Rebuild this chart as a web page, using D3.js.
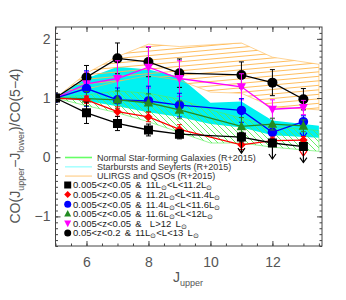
<!DOCTYPE html>
<html>
<head>
<meta charset="utf-8">
<script src="https://cdnjs.cloudflare.com/ajax/libs/d3/7.8.5/d3.min.js"></script>
<style>
  body { margin: 0; background: #fff; }
  svg { display: block; font-family: "Liberation Sans", Arial, sans-serif; }
</style>
</head>
<body>
<div id="chart"></div>
<script>
// J_upper of the measured lines
var jUpper = [5, 6, 7, 8, 9, 11, 12, 13];

// ratios CO(J-J-1)/CO(5-4) for each sample, with errors
var sqVals   = [1, 0.75, 0.57, 0.46, 0.39, 0.34, 0.24, 0.18];
var sqErr    = [0, 0.18, 0.12, 0.10, 0.08, 0.08, 0.06, 0.06];
var redVals  = [1, 0.97, 0.77, 0.68, 0.47, 0.21, 0.28, 0.29];
var redErr   = [0, 0.06, 0.08, 0.08, 0.08, 0.08, 0.06, 0.06];
var blueVals = [1, 1.16, 0.97, 0.95, 0.88, 0.79, 0.42, 0.60];
var blueErr  = [0, 0.30, 0.20, 0.25, 0.20, 0.20, 0.10, 0.10];
var grnVals  = [1, 0.99, 0.97, 0.92, 0.80, 0.52, 0.56, 0.53];
var grnErr   = [0, 0.12, 0.15, 0.15, 0.15, 0.15, 0.10, 0.10];
var magVals  = [1, 1.24, 1.33, 1.52, 1.33, 1.19, 0.81, 0.84];
var magErr   = [0, 0.20, 0.30, 0.35, 0.30, 0.22, 0.16, 0.12];
var circVals = [1, 1.35, 1.67, 1.61, 1.42, 1.39, 1.26, 0.98];
var circErr  = [0, 0.20, 0.26, 0.25, 0.24, 0.22, 0.22, 0.18];

// upper limits (drawn as down arrows): [sample, J]
var upperLimits = [["sq", 11], ["sq", 12], ["sq", 13], ["red", 13], ["blue", 13]];

// literature ranges (R+2015)
var bandJ    = [5, 6, 7, 8, 9, 10, 11, 12, 13.5];
var ulirgHi  = [1.0, 1.42, 1.70, 1.91, 1.87, 1.90, 1.93, 1.69, 1.57];
var ulirgLo  = [1.0, 1.15, 1.28, 1.38, 1.30, 1.10, 1.08, 0.85, 0.80];
var sbHi     = [1.0, 1.33, 1.53, 1.48, 1.36, 0.92, 0.94, 0.62, 0.53];
var sbLo     = [1.0, 0.95, 0.86, 0.76, 0.68, 0.56, 0.50, 0.37, 0.33];
var normHi   = [1.0, 1.05, 1.12, 1.08, 0.98, 0.80, 0.66, 0.52, 0.45];
var normLo   = [1.0, 0.87, 0.75, 0.60, 0.42, 0.24, 0.24, 0.17, 0.10];

var bandLabels = ["Normal Star-forming Galaxies (R+2015)",
                  "Starbursts and Seyferts (R+2015)",
                  "ULIRGS and QSOs (R+2015)"];
var sampleLabels = ["0.005<z<0.05 & 11L⊙<L<11.2L⊙",
                    "0.005<z<0.05 & 11.2L⊙<L<11.4L⊙",
                    "0.005<z<0.05 & 11.4L⊙<L<11.6L⊙",
                    "0.005<z<0.05 & 11.6L⊙<L<12L⊙",
                    "0.005<z<0.05 &  L>12 L⊙",
                    "0.05<z<0.2 & 11L⊙<L<13 L⊙"];

var xTicks = [6, 8, 10, 12];
var yTicks = [-1, 0, 1, 2];

var svgWidth = 346, svgHeight = 300;
var pLeft = 55.5, pRight = 322, pTop = 27, pBottom = 246;

var svg = d3.select("#chart").append("svg")
  .attr("width", svgWidth).attr("height", svgHeight);

var x = d3.scaleLinear().domain([5, 13.6]).range([pLeft, pRight]);
var y = d3.scaleLinear().domain([-1.5, 2.2]).range([pBottom, pTop]);

var defs = svg.append("defs");
defs.append("clipPath").attr("id", "plotclip").append("rect")
  .attr("x", pLeft).attr("y", pTop).attr("width", pRight - pLeft).attr("height", pBottom - pTop);

var plot = svg.append("g").attr("clip-path", "url(#plotclip)");

var band = d3.area()
  .x(function(d) { return x(d[0]); })
  .y0(function(d) { return y(d[1]); })
  .y1(function(d) { return y(d[2]); });
function bandData(lo, hi) { return bandJ.map(function(j, i) { return [j, lo[i], hi[i]]; }); }

// hatched band: parallel lines clipped to the band outline
function hatchBand(id, data, color, gap, slope) {
  defs.append("clipPath").attr("id", id).append("path").datum(data).attr("d", band);
  var g = plot.append("g").attr("clip-path", "url(#" + id + ")");
  var w = pRight - pLeft;
  for (var c = pTop - Math.abs(slope) * w - 20; c < pBottom + Math.abs(slope) * w + 20; c += gap) {
    g.append("line").attr("x1", pLeft).attr("x2", pRight)
      .attr("y1", c).attr("y2", c + slope * w)
      .attr("stroke", color).attr("stroke-width", 0.9);
  }
  plot.append("path").datum(data).attr("d", band)
    .attr("fill", "none").attr("stroke", color).attr("stroke-width", 0.6);
}

plot.append("path").datum(bandData(sbLo, sbHi))
  .attr("d", band).attr("fill", "#00f2f2");
hatchBand("clipNorm", bandData(normLo, normHi), "#55ee55", 6, 1);
hatchBand("clipUlirg", bandData(ulirgLo, ulirgHi), "#ffb74d", 4.5, -0.09);

// marker shapes
function circlePath(cx, cy, r) {
  var p = d3.path(); p.arc(cx, cy, r, 0, 2 * Math.PI); p.closePath(); return p.toString();
}
function shapePath(type, cx, cy, s) {
  var h = s / 2;
  if (type === "square") return "M" + (cx - h) + "," + (cy - h) + "h" + s + "v" + s + "h" + (-s) + "Z";
  if (type === "diamond") return "M" + cx + "," + (cy - h) + "L" + (cx + h) + "," + cy + "L" + cx + "," + (cy + h) + "L" + (cx - h) + "," + cy + "Z";
  if (type === "tri") return "M" + cx + "," + (cy - s * 0.55) + "L" + (cx + h) + "," + (cy + s * 0.4) + "L" + (cx - h) + "," + (cy + s * 0.4) + "Z";
  if (type === "tridown") return "M" + cx + "," + (cy + s * 0.55) + "L" + (cx + h) + "," + (cy - s * 0.4) + "L" + (cx - h) + "," + (cy - s * 0.4) + "Z";
  return circlePath(cx, cy, h);
}

var series = {
  circ: { vals: circVals, err: circErr, color: "#000000", shape: "circle", size: 10 },
  mag:  { vals: magVals,  err: magErr,  color: "#ff00ff", shape: "tridown", size: 9 },
  blue: { vals: blueVals, err: blueErr, color: "#0000ff", shape: "circle", size: 9.5 },
  grn:  { vals: grnVals,  err: grnErr,  color: "#228b22", shape: "tri", size: 9.5 },
  red:  { vals: redVals,  err: redErr,  color: "#ff0000", shape: "diamond", size: 8.5 },
  sq:   { vals: sqVals,   err: sqErr,   color: "#000000", shape: "square", size: 9 }
};
var drawOrder = ["circ", "mag", "blue", "grn", "red", "sq"];

var line = d3.line().x(function(d) { return x(d[0]); }).y(function(d) { return y(d[1]); });

drawOrder.forEach(function(key) {
  var s = series[key];
  var pts = jUpper.map(function(j, i) { return [j, s.vals[i], s.err[i]]; });
  var g = plot.append("g");
  // error bars
  pts.forEach(function(d) {
    if (!d[2]) return;
    var cx = x(d[0]), y1 = y(d[1] + d[2]), y2 = y(d[1] - d[2]);
    g.append("line").attr("x1", cx).attr("x2", cx).attr("y1", y1).attr("y2", y2)
      .attr("stroke", s.color).attr("stroke-width", 1);
    [y1, y2].forEach(function(yy) {
      g.append("line").attr("x1", cx - 2.5).attr("x2", cx + 2.5).attr("y1", yy).attr("y2", yy)
        .attr("stroke", s.color).attr("stroke-width", 1);
    });
  });
  g.append("path").datum(pts).attr("d", line)
    .attr("fill", "none").attr("stroke", s.color).attr("stroke-width", 1.3);
  // upper limit arrows
  upperLimits.filter(function(u) { return u[0] === key; }).forEach(function(u) {
    var i = jUpper.indexOf(u[1]);
    var cx = x(u[1]), cy = y(s.vals[i]), tip = cy + 16;
    g.append("line").attr("x1", cx).attr("x2", cx).attr("y1", cy).attr("y2", tip)
      .attr("stroke", s.color).attr("stroke-width", 1.2);
    g.append("path").attr("d", "M" + (cx - 3.5) + "," + (tip - 5) + "L" + cx + "," + tip + "L" + (cx + 3.5) + "," + (tip - 5))
      .attr("fill", "none").attr("stroke", s.color).attr("stroke-width", 1.2);
  });
  pts.forEach(function(d) {
    g.append("path").attr("d", shapePath(s.shape, x(d[0]), y(d[1]), s.size)).attr("fill", s.color);
  });
});

// axes with inward ticks
var axisColor = "#444";
function styleAxis(g) {
  g.select(".domain").remove();
  g.selectAll("line").attr("stroke", axisColor);
  g.selectAll("text").attr("fill", "#555").style("font-size", "14px")
    .style("font-family", "'Liberation Sans', Arial, sans-serif");
}
var halfX = d3.range(5, 13.6, 0.5);
var minorY = d3.range(-15, 22).map(function(v) { return v / 10; });

svg.append("g").attr("transform", "translate(0," + pBottom + ")")
  .call(d3.axisBottom(x).tickValues(halfX).tickSize(-2.5).tickFormat("")).call(styleAxis);
svg.append("g").attr("transform", "translate(0," + pBottom + ")")
  .call(d3.axisBottom(x).tickValues(xTicks).tickSize(-5).tickPadding(11).tickFormat(d3.format("d"))).call(styleAxis);
svg.append("g").attr("transform", "translate(0," + pTop + ")")
  .call(d3.axisTop(x).tickValues(halfX).tickSize(-2.5).tickFormat("")).call(styleAxis);
svg.append("g").attr("transform", "translate(0," + pTop + ")")
  .call(d3.axisTop(x).tickValues(xTicks).tickSize(-5).tickFormat("")).call(styleAxis);

svg.append("g").attr("transform", "translate(" + pLeft + ",0)")
  .call(d3.axisLeft(y).tickValues(minorY).tickSize(-2.5).tickFormat("")).call(styleAxis);
svg.append("g").attr("transform", "translate(" + pLeft + ",0)")
  .call(d3.axisLeft(y).tickValues(yTicks).tickSize(-5).tickPadding(5).tickFormat(function(d) { return d < 0 ? "\u2212" + (-d) : d; })).call(styleAxis);
svg.append("g").attr("transform", "translate(" + pRight + ",0)")
  .call(d3.axisRight(y).tickValues(minorY).tickSize(-2.5).tickFormat("")).call(styleAxis);
svg.append("g").attr("transform", "translate(" + pRight + ",0)")
  .call(d3.axisRight(y).tickValues(yTicks).tickSize(-5).tickFormat("")).call(styleAxis);

svg.append("rect").attr("x", pLeft).attr("y", pTop).attr("width", pRight - pLeft).attr("height", pBottom - pTop)
  .attr("fill", "none").attr("stroke", axisColor).attr("stroke-width", 1);

// axis titles
var xt = svg.append("text").attr("x", 188).attr("y", 282).attr("text-anchor", "middle")
  .attr("fill", "#555").style("font-size", "14px");
xt.append("tspan").text("J");
xt.append("tspan").attr("dy", 4).style("font-size", "9px").text("upper");

var yt = svg.append("text").attr("transform", "translate(20,146) rotate(-90)")
  .attr("text-anchor", "middle").attr("fill", "#555").style("font-size", "14px");
yt.append("tspan").text("CO(J");
yt.append("tspan").attr("dy", 4).style("font-size", "9px").text("upper");
yt.append("tspan").attr("dy", -4).text("\u2212J");
yt.append("tspan").attr("dy", 4).style("font-size", "9px").text("lower");
yt.append("tspan").attr("dy", -4).text(")/CO(5\u22124)");

// legend
var legend = svg.append("g");
var bandColors = ["#66ff66", "#aaffff", "#ffdcaa"];
bandLabels.forEach(function(t, i) {
  var ly = 157.5 + i * 9.3;
  legend.append("line").attr("x1", 65).attr("x2", 92).attr("y1", ly).attr("y2", ly)
    .attr("stroke", bandColors[i]).attr("stroke-width", 1.6);
  legend.append("text").attr("x", 97).attr("y", ly + 3.2).attr("fill", "#333")
    .style("font-size", "9px").text(t);
});
var legendKeys = ["sq", "red", "blue", "grn", "mag", "circ"];
sampleLabels.forEach(function(t, i) {
  var ly = 185 + i * 9.6;
  var s = series[legendKeys[i]];
  legend.append("path").attr("d", shapePath(s.shape, 67.7, ly, 7)).attr("fill", s.color);
  var tx = legend.append("text").attr("x", 73).attr("y", ly + 3.4).attr("fill", "#222")
    .style("font-size", "9.5px").style("word-spacing", "1.5px").attr("xml:space", "preserve");
  var parts = t.split("⊙");
  parts.forEach(function(p, k) {
    var ts = tx.append("tspan").text(p);
    if (k > 0) ts.attr("dy", -2);
    if (k < parts.length - 1) {
      tx.append("tspan").attr("dy", 2).style("font-size", "7px").text("⊙");
    }
  });
});
</script>
</body>
</html>
